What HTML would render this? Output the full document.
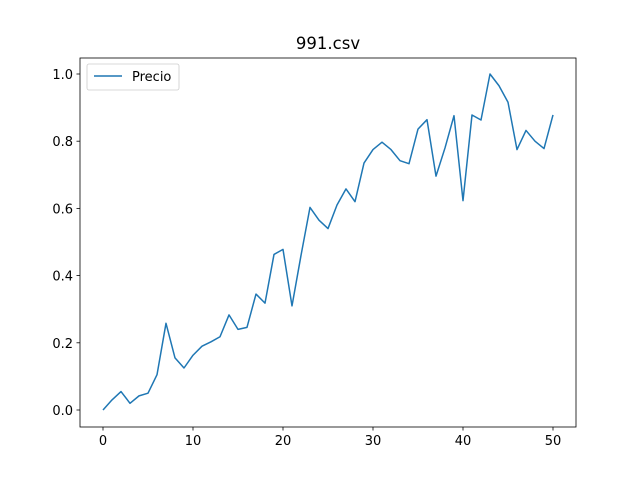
<!DOCTYPE html>
<html><head><meta charset="utf-8"><style>
body{margin:0;background:#fff}
svg{display:block;font-family:"DejaVu Sans","Liberation Sans",sans-serif}
</style></head><body>
<svg id="chart" width="640" height="480" xmlns="http://www.w3.org/2000/svg">
<rect width="640" height="480" fill="#fff"/>
<text x="328" y="49" font-size="16.5" text-anchor="middle">991.csv</text>
<g id="ticks"></g>
<path id="line" fill="none" stroke="#1f77b4" stroke-width="1.5" stroke-linejoin="round"/>
<rect x="80" y="58" width="496" height="369" fill="none" stroke="#000" stroke-width="0.8"/>
<g>
<rect x="87" y="64" width="92" height="26" rx="2" fill="#fff" stroke="#ccc" stroke-width="0.8"/>
<line x1="94" y1="76" x2="122" y2="76" stroke="#1f77b4" stroke-width="1.5"/>
<text x="132" y="81" font-size="13">Precio</text>
</g>
</svg>
<script>
const xs=[0,1,2,3,4,5,6,7,8,9,10,11,12,13,14,15,16,17,18,19,20,21,22,23,24,25,26,27,28,29,30,31,32,33,34,35,36,37,38,39,40,41,42,43,44,45,46,47,48,49,50];
const values=[0,0.03,0.055,0.02,0.042,0.05,0.105,0.258,0.155,0.125,0.163,0.19,0.203,0.218,0.283,0.24,0.246,0.345,0.318,0.463,0.478,0.31,0.46,0.603,0.565,0.54,0.61,0.658,0.62,0.735,0.775,0.797,0.775,0.742,0.733,0.836,0.864,0.696,0.78,0.876,0.623,0.878,0.863,1.0,0.965,0.916,0.775,0.832,0.8,0.778,0.878];
const xTicks=[0,10,20,30,40,50];
const yTicks=[0.0,0.2,0.4,0.6,0.8,1.0];
const X=v=>103+v*9, Y=v=>410-v*336;
const ns="http://www.w3.org/2000/svg";
document.getElementById('line').setAttribute('d',values.map((v,i)=>(i?'L':'M')+X(xs[i])+' '+Y(v)).join(''));
const g=document.getElementById('ticks');
function add(tag,attrs,txt){const e=document.createElementNS(ns,tag);for(const k in attrs)e.setAttribute(k,attrs[k]);if(txt!==undefined)e.textContent=txt;g.appendChild(e);return e;}
xTicks.forEach(t=>{
 const l=add('line',{x1:X(t),x2:X(t),y1:427,y2:430.5,stroke:'#000','stroke-width':0.8});
 
 
 const s=add('text',{x:X(t),y:445,'font-size':13,'text-anchor':'middle'},String(t));
 
 
});
yTicks.forEach(t=>{
 const l=add('line',{x1:76.5,x2:80,y1:Y(t),y2:Y(t),stroke:'#000','stroke-width':0.8});
 
 
 const s=add('text',{x:73,y:Y(t)+5,'font-size':13,'text-anchor':'end'},t.toFixed(1));
 
 
});
</script>
</body></html>
